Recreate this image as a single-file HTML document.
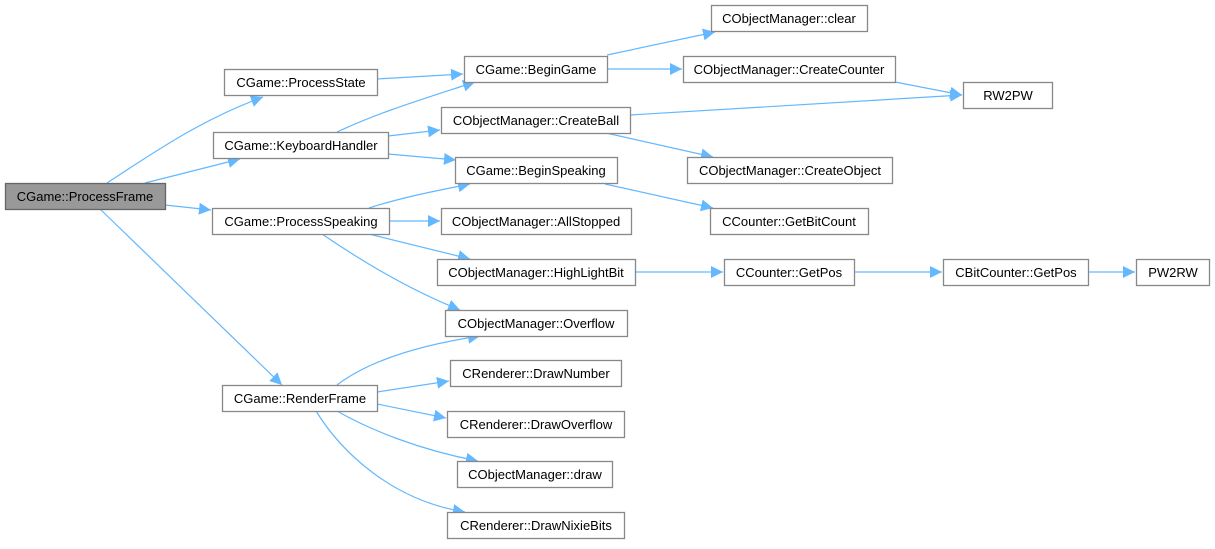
<!DOCTYPE html>
<html><head><meta charset="utf-8"><style>
body{margin:0;background:#fff}
svg text{font-family:"Liberation Sans",sans-serif;font-size:13px;fill:#000;text-anchor:middle}
</style></head><body>
<svg width="1215" height="544" viewBox="0 0 1215 544" xmlns="http://www.w3.org/2000/svg">
<defs><marker id="a" viewBox="0 0 10 10" refX="10" refY="5" markerWidth="12" markerHeight="12" markerUnits="userSpaceOnUse" orient="auto"><path d="M0,0L10,5L0,10z" fill="#63b8ff"/></marker></defs>
<g fill="none" stroke="#63b8ff" stroke-width="1.2" marker-end="url(#a)">
<path d="M107,183 C150,155 200,120 263,97"/>
<path d="M145,183 L240,159"/>
<path d="M165,205 L211,210"/>
<path d="M100,209 L282,385"/>
<path d="M377,79 L463,74"/>
<path d="M337,132 C380,112 420,100 475,82"/>
<path d="M388,136 L440,130"/>
<path d="M388,154 L456,160"/>
<path d="M369,208 C400,198 430,192 470,184"/>
<path d="M389,221 L440,221"/>
<path d="M369,234 L470,259"/>
<path d="M322,234 C360,260 410,290 460,310"/>
<path d="M607,55 L715,32"/>
<path d="M607,69 L682,69"/>
<path d="M630,115 L962,95"/>
<path d="M606,133 L713,157"/>
<path d="M605,184 L713,208"/>
<path d="M635,272 L723,272"/>
<path d="M854,272 L942,272"/>
<path d="M1088,272 L1135,272"/>
<path d="M895,82 L962,95"/>
<path d="M337,385 C370,360 420,345 480,336"/>
<path d="M377,392 L449,381"/>
<path d="M377,404 L446,418"/>
<path d="M337,411 C370,430 420,450 478,461"/>
<path d="M316,411 C340,450 390,500 465,512"/>
</g>
<g stroke="#888" stroke-width="1.3" fill="#fff">
<rect x="5.5" y="183.5" width="160" height="26" fill="#999" stroke="#666"/>
<rect x="224.5" y="69.5" width="153" height="26"/>
<rect x="213.5" y="132.5" width="175" height="26"/>
<rect x="212.5" y="208.5" width="177" height="26"/>
<rect x="222.5" y="385.5" width="155" height="26"/>
<rect x="464.5" y="56.5" width="143" height="26"/>
<rect x="711.5" y="5.5" width="156" height="26"/>
<rect x="683.5" y="56.5" width="212" height="26"/>
<rect x="441.5" y="107.5" width="189" height="26"/>
<rect x="455.5" y="157.5" width="162" height="26"/>
<rect x="687.5" y="157.5" width="205" height="26"/>
<rect x="441.5" y="208.5" width="190" height="26"/>
<rect x="710.5" y="208.5" width="158" height="26"/>
<rect x="437.5" y="259.5" width="198" height="26"/>
<rect x="724.5" y="259.5" width="130" height="26"/>
<rect x="963.5" y="82.5" width="89" height="26"/>
<rect x="943.5" y="259.5" width="145" height="26"/>
<rect x="1136.5" y="259.5" width="73" height="26"/>
<rect x="445.5" y="310.5" width="182" height="26"/>
<rect x="450.5" y="360.5" width="171" height="26"/>
<rect x="447.5" y="411.5" width="177" height="26"/>
<rect x="457.5" y="461.5" width="155" height="26"/>
<rect x="447.5" y="512.5" width="177" height="26"/>
</g>
<g>
<text x="85" y="201">CGame::ProcessFrame</text>
<text x="301" y="87">CGame::ProcessState</text>
<text x="301" y="150">CGame::KeyboardHandler</text>
<text x="301" y="226">CGame::ProcessSpeaking</text>
<text x="300" y="403">CGame::RenderFrame</text>
<text x="536" y="74">CGame::BeginGame</text>
<text x="789" y="23">CObjectManager::clear</text>
<text x="789" y="74">CObjectManager::CreateCounter</text>
<text x="536" y="125">CObjectManager::CreateBall</text>
<text x="536" y="175">CGame::BeginSpeaking</text>
<text x="790" y="175">CObjectManager::CreateObject</text>
<text x="536" y="226">CObjectManager::AllStopped</text>
<text x="789" y="226">CCounter::GetBitCount</text>
<text x="536" y="277">CObjectManager::HighLightBit</text>
<text x="789" y="277">CCounter::GetPos</text>
<text x="1008" y="100">RW2PW</text>
<text x="1016" y="277">CBitCounter::GetPos</text>
<text x="1173" y="277">PW2RW</text>
<text x="536" y="328">CObjectManager::Overflow</text>
<text x="536" y="378">CRenderer::DrawNumber</text>
<text x="536" y="429">CRenderer::DrawOverflow</text>
<text x="535" y="479">CObjectManager::draw</text>
<text x="536" y="530">CRenderer::DrawNixieBits</text>
</g>
</svg>
</body></html>
